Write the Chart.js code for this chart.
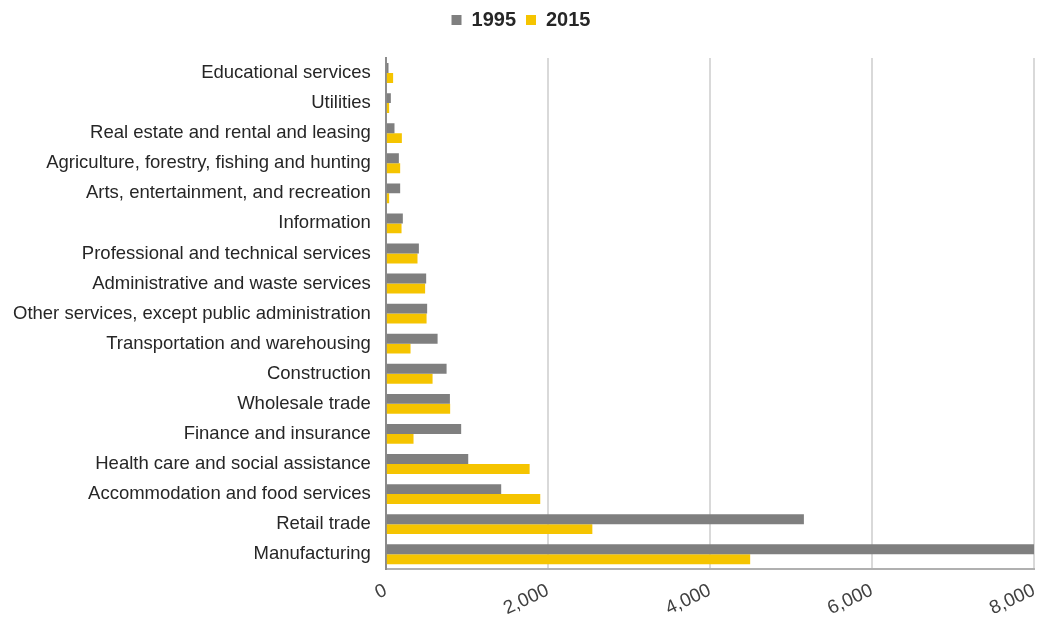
<!DOCTYPE html>
<html>
<head>
<meta charset="utf-8">
<script src="https://cdn.jsdelivr.net/npm/chart.js@4"></script>
<style>
  html, body { margin: 0; padding: 0; background: #fff; }
  .wrap { width: 1037px; height: 625px; }
</style>
</head>
<body>
<div class="wrap"><canvas id="myChart"></canvas></div>
<script>
const industries = [
    'Educational services',
    'Utilities',
    'Real estate and rental and leasing',
    'Agriculture, forestry, fishing and hunting',
    'Arts, entertainment, and recreation',
    'Information',
    'Professional and technical services',
    'Administrative and waste services',
    'Other services, except public administration',
    'Transportation and warehousing',
    'Construction',
    'Wholesale trade',
    'Finance and insurance',
    'Health care and social assistance',
    'Accommodation and food services',
    'Retail trade',
    'Manufacturing'
]
const values1995 = [33, 62, 107, 161, 177, 210, 408, 498, 510, 639, 750, 791, 930, 1017, 1424, 5160, 8000]
const values2015 = [90, 41, 198, 177, 41, 194, 391, 485, 503, 305, 577, 794, 342, 1775, 1906, 2549, 4497]
const xTicks = [0, 2000, 4000, 6000, 8000]

// extra room under the legend
const legendGap = {
    id: 'legendGap',
    beforeInit(chart) {
        const fit = chart.legend.fit
        chart.legend.fit = function () {
            fit.bind(chart.legend)()
            this.height += 18
        }
    }
}

const ctx = document.getElementById('myChart')

new Chart(ctx, {
    type: 'bar',
    data: {
        labels: industries,
        datasets: [{
            label: '1995',
            data: values1995,
            backgroundColor: '#7f7f7f'
        }, {
            label: '2015',
            data: values2015,
            backgroundColor: '#f5c400'
        }]
    },
    options: {
        indexAxis: 'y',
        animation: false,
        maintainAspectRatio: false,
        responsive: true,
        layout: { padding: { top: 0, right: 3, left: 8, bottom: 0 } },
        datasets: {
            bar: { barPercentage: 1, categoryPercentage: 0.66 }
        },
        plugins: {
            legend: {
                position: 'top',
                labels: {
                    boxWidth: 10,
                    boxHeight: 10,
                    padding: 10,
                    color: '#262626',
                    font: { family: 'Liberation Sans', size: 20, weight: 'bold' }
                }
            },
            tooltip: { enabled: false }
        },
        scales: {
            x: {
                min: 0,
                max: 8000,
                afterBuildTicks: (axis) => { axis.ticks = xTicks.map(v => ({ value: v })) },
                afterFit: (axis) => {
                    axis.paddingRight = 0
                    axis.height -= 5
                },
                grid: { color: '#d9d9d9', lineWidth: 2, drawTicks: false },
                border: { display: true, color: '#b0b0b0', width: 2 },
                ticks: {
                    minRotation: 25,
                    maxRotation: 25,
                    padding: 10,
                    color: '#404040',
                    font: { family: 'Liberation Sans', size: 19 },
                    callback: (v) => v.toLocaleString('en-US')
                }
            },
            y: {
                afterFit: (axis) => { axis.width -= 10 },
                grid: { display: false, drawTicks: false },
                border: { display: true, color: '#8c8c8c', width: 2 },
                ticks: {
                    padding: 15,
                    color: '#262626',
                    font: { family: 'Liberation Sans', size: 18.5 }
                }
            }
        }
    },
    plugins: [legendGap]
})
</script>
</body>
</html>
